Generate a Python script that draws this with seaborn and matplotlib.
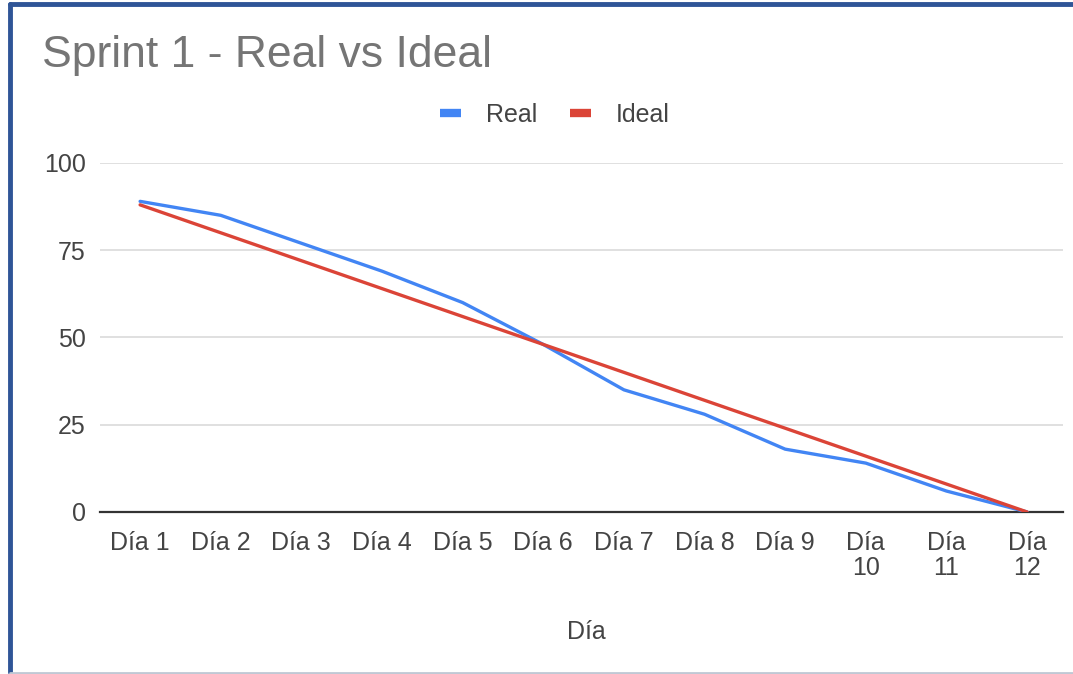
import pandas as pd
import matplotlib.pyplot as plt
import matplotlib.lines as mlines
import seaborn as sns

# Datos del sprint
dias = ["Día 1", "Día 2", "Día 3", "Día 4", "Día 5", "Día 6", "Día 7", "Día 8",
        "Día 9", "Día\n10", "Día\n11", "Día\n12"]
real = [89, 85, 77, 69, 60, 48, 35, 28, 18, 14, 6, 0]
ideal = [88, 80, 72, 64, 56, 48, 40, 32, 24, 16, 8, 0]
y_ticks = [0, 25, 50, 75, 100]

df = pd.DataFrame({"Día": dias, "Real": real, "Ideal": ideal})
long_df = df.melt(id_vars="Día", var_name="Serie", value_name="Valor")

sns.set_style("white")
plt.rcParams['font.family'] = ['Liberation Sans', 'DejaVu Sans']

azul = "#4285F4"
rojo = "#DB4437"
texto = "#444444"
fs = 18

fig = plt.figure(figsize=(10.73, 6.74), dpi=100)
ax = fig.add_axes([0.093, 0.2404, 0.898, 0.5178])

sns.lineplot(data=long_df, x="Día", y="Valor", hue="Serie", sort=False,
             palette={"Real": azul, "Ideal": rojo}, linewidth=2.4,
             legend=False, ax=ax)

ax.set_ylim(0, 100)
ax.set_xlim(-0.5, 11.45)
ax.set_yticks(y_ticks)
ax.set_xticks(range(len(dias)))
ax.set_xticklabels(dias, linespacing=1.05)
ax.yaxis.grid(True, color="#e0e0e0", linewidth=1.4)
ax.xaxis.grid(False)
ax.set_axisbelow(True)
for s in ["top", "right", "left"]:
    ax.spines[s].set_visible(False)
ax.spines["bottom"].set_color("#333333")
ax.spines["bottom"].set_linewidth(1.6)
ax.spines["bottom"].set_zorder(1)
ax.tick_params(axis="both", length=0, labelsize=fs, colors=texto)
ax.tick_params(axis="x", pad=14)
ax.tick_params(axis="y", pad=10)
ax.set_xlabel("Día", fontsize=fs, color=texto)
ax.xaxis.set_label_coords(0.505, -0.31)
ax.set_ylabel("")

# Título
fig.text(0.039, 0.918, "Sprint 1 - Real vs Ideal", fontsize=32, color="#757575",
         ha="left", va="center")

# Leyenda
handles = [mlines.Line2D([], [], color=azul, linewidth=6, solid_capstyle="butt"),
           mlines.Line2D([], [], color=rojo, linewidth=6, solid_capstyle="butt")]
fig.legend(handles, ["Real", "Ideal"], loc="center", bbox_to_anchor=(0.517, 0.83),
           ncol=2, frameon=False, fontsize=fs, handlelength=0.85,
           handletextpad=1.0, columnspacing=1.3, labelcolor=texto)

# Marco de la captura
fig.add_artist(mlines.Line2D([0.0093, 1.0], [0.9935, 0.9935], color="#2F5597",
                             linewidth=3.5, transform=fig.transFigure))
fig.add_artist(mlines.Line2D([0.0093, 0.0093], [0.003, 0.9935], color="#2F5597",
                             linewidth=3.5, transform=fig.transFigure))
fig.add_artist(mlines.Line2D([0.0093, 1.0], [0.002, 0.002], color="#c0c8d4",
                             linewidth=2, transform=fig.transFigure))

plt.savefig("out.png", dpi=100)
plt.close()
